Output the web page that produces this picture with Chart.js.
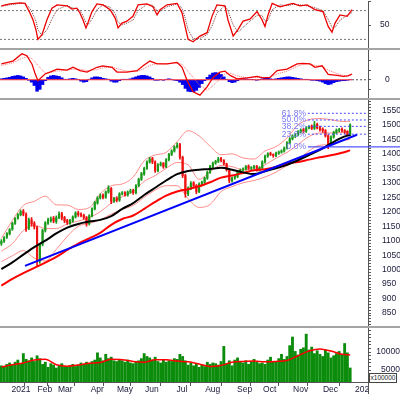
<!DOCTYPE html>
<html>
<head>
<meta charset="utf-8">
<script src="https://cdn.jsdelivr.net/npm/chart.js@4.4.1/dist/chart.umd.min.js"></script>
<style>
body { margin: 0; background: #fff; width: 400px; height: 394px; overflow: hidden; position: relative; font-family: 'Liberation Sans', Arial, sans-serif; }
.pane { position: absolute; left: 0; width: 400px; }
.sep { position: absolute; left: 0; width: 400px; height: 2px; background: #a4a4a4; }
#unit { position: absolute; left: 369px; top: 373px; width: 26px; height: 8px; border: 1px solid #444; background: #fff;
        font-size: 6.5px; line-height: 8px; text-align: center; color: #222; }
#edge { position: absolute; left: 368px; top: 383px; width: 32px; height: 11px; background: #fff; border-left: 1px solid #555; }
</style>
</head>
<body>
<div class="pane" style="top:1px;height:48px"><canvas id="osc"></canvas></div>
<div class="sep" style="top:48px"></div>
<div class="pane" style="top:50px;height:48px"><canvas id="macd"></canvas></div>
<div class="sep" style="top:98px"></div>
<div class="pane" style="top:100px;height:227px"><canvas id="price"></canvas></div>
<div class="sep" style="top:326px"></div>
<div class="pane" style="top:328px;height:66px"><canvas id="vol"></canvas></div>
<div id="unit">x100000</div>
<div id="edge"></div>

<script>
// x positions are candle slots (one slot = two trading sessions), 0 = late Dec 2020
const X_MIN = -0.5, X_MAX = 133.5;
const FONT = "'Liberation Sans', Arial, sans-serif";

const monthSlots = [3.7, 13.2, 20.6, 32.5, 42.1, 52.3, 63.8, 74.2, 85.8, 95.3, 106.2, 117.1, 128.8];
const monthNames = ['2021', 'Feb', 'Mar', 'Apr', 'May', 'Jun', 'Jul', 'Aug', 'Sep', 'Oct', 'Nov', 'Dec', '2022'];

// candles
const opens = [
  1090,1098,1112,1124,1140,1160,1178,1190,1202,1190,
  1142,1172,1160,1146,1030,1088,1136,1160,1170,1178,
  1166,1180,1194,1180,1170,1160,1168,1182,1196,1192,
  1188,1180,1160,1186,1210,1230,1248,1258,1250,1268,
  1280,1236,1248,1240,1262,1266,1258,1268,1274,1266,
  1290,1312,1330,1350,1372,1384,1372,1342,1362,1368,
  1356,1380,1398,1410,1424,1432,1388,1325,1262,1282,
  1300,1290,1270,1296,1302,1316,1336,1356,1368,1374,
  1384,1378,1366,1346,1306,1318,1322,1338,1346,1348,
  1358,1350,1352,1358,1344,1352,1372,1392,1402,1398,
  1394,1402,1406,1410,1420,1438,1452,1462,1466,1476,
  1484,1478,1490,1496,1488,1502,1490,1486,1480,1462,
  1436,1458,1474,1482,1486,1480,1478,1466];
const highs = [
  1104,1114,1128,1142,1164,1180,1194,1206,1208,1196,
  1178,1180,1166,1150,1090,1140,1166,1178,1182,1184,
  1186,1200,1198,1184,1174,1174,1186,1200,1202,1196,
  1192,1184,1190,1214,1236,1252,1262,1262,1272,1290,
  1284,1250,1252,1266,1270,1270,1272,1278,1278,1294,
  1316,1336,1354,1376,1388,1388,1376,1366,1372,1370,
  1384,1402,1414,1428,1438,1436,1392,1330,1286,1304,
  1304,1294,1300,1306,1320,1340,1360,1372,1378,1388,
  1388,1380,1368,1348,1320,1326,1342,1348,1352,1360,
  1362,1356,1360,1360,1356,1376,1396,1404,1406,1400,
  1406,1410,1414,1424,1442,1456,1466,1470,1480,1486,
  1488,1494,1498,1500,1512,1506,1496,1490,1484,1466,
  1462,1478,1486,1488,1490,1484,1480,1504];
const lows = [
  1084,1094,1108,1120,1136,1156,1174,1186,1186,1132,
  1138,1150,1140,1010,1022,1082,1130,1156,1164,1162,
  1160,1176,1172,1162,1156,1156,1164,1178,1184,1182,
  1174,1150,1154,1182,1206,1226,1244,1244,1246,1264,
  1228,1232,1234,1236,1258,1254,1254,1264,1260,1262,
  1286,1308,1326,1346,1368,1366,1336,1338,1358,1350,
  1352,1376,1394,1406,1420,1382,1318,1250,1256,1276,
  1284,1262,1266,1290,1298,1312,1332,1352,1364,1370,
  1372,1362,1340,1300,1302,1312,1318,1334,1340,1344,
  1346,1346,1348,1340,1340,1348,1368,1388,1394,1388,
  1390,1398,1402,1406,1416,1434,1448,1456,1462,1472,
  1472,1474,1486,1484,1484,1486,1478,1474,1458,1418,
  1432,1454,1470,1476,1476,1470,1462,1462];
const closes = [
  1098,1110,1125,1138,1160,1176,1190,1200,1192,1140,
  1172,1158,1148,1035,1085,1135,1162,1172,1176,1168,
  1180,1192,1178,1168,1162,1170,1182,1196,1190,1188,
  1180,1158,1186,1210,1232,1248,1255,1250,1268,1282,
  1236,1246,1240,1262,1265,1260,1268,1272,1266,1290,
  1312,1332,1350,1372,1382,1372,1342,1362,1366,1356,
  1380,1398,1410,1424,1430,1388,1325,1262,1280,1298,
  1290,1270,1295,1302,1316,1336,1356,1368,1374,1382,
  1378,1366,1345,1308,1316,1322,1338,1344,1348,1356,
  1350,1353,1356,1344,1352,1372,1392,1400,1398,1394,
  1402,1406,1410,1420,1438,1452,1462,1466,1476,1482,
  1478,1490,1494,1488,1500,1490,1484,1480,1462,1436,
  1458,1474,1482,1484,1480,1476,1466,1500];

// price overlays, sampled at these slots
const lineSlots = [0,4,8,12,16,20,24,28,32,36,40,44,48,52,56,60,64,68,72,76,80,84,88,92,96,100,104,108,112,116,120,124,127];
const ma50 = [1002,1025,1052,1078,1100,1125,1145,1158,1166,1172,1185,1210,1230,1258,1283,1308,1330,1341,1345,1348,1352,1345,1336,1330,1340,1350,1362,1378,1396,1414,1436,1456,1466];
const ma200 = [945,968,988,1006,1024,1044,1068,1090,1108,1127,1155,1175,1187,1210,1234,1256,1270,1278,1288,1302,1318,1325,1334,1343,1347,1355,1367,1372,1380,1388,1395,1404,1412];
const bbUpper = [1108,1170,1222,1236,1254,1224,1223,1208,1214,1262,1290,1296,1320,1376,1396,1405,1442,1480,1462,1426,1397,1400,1386,1382,1410,1425,1455,1500,1518,1522,1518,1512,1512];
const bbMid = [1064,1090,1135,1154,1142,1142,1158,1168,1180,1200,1230,1252,1270,1305,1325,1350,1370,1362,1312,1338,1360,1356,1345,1345,1362,1385,1405,1432,1460,1472,1472,1474,1476];
const bbLower = [1028,1048,1066,1040,1030,1070,1115,1150,1160,1172,1192,1208,1222,1250,1275,1290,1290,1245,1215,1225,1270,1287,1300,1308,1320,1337,1360,1380,1410,1430,1432,1445,1450];

const trendSlots = [8.6, 129.5];
const trendValues = [1013, 1466];

const fibLevels = [61.8, 50.0, 38.2, 23.6, 0.0];
const fibPrices = [1540, 1517, 1495, 1468, 1424];
const fibStart = 111.6, fibLabelSlot = 110.9, fibZeroEnd = 145.2;

const priceLabels = [850,900,950,1000,1050,1100,1150,1200,1250,1300,1350,1400,1450,1500,1550];

// oscillator (top pane)
const oscSlots = [0,3.1,6.8,8.6,10.4,11.5,12.6,13.3,14.8,16.6,18.4,20.3,23.9,25.7,27.5,28.6,29.7,30.8,31.5,33.0,
  34.8,37.0,39.6,41.4,42.5,43.9,45.7,47.9,49.8,53.0,55.2,56.7,57.8,60.3,64.0,65.8,66.9,68.0,69.8,72.3,
  74.9,76.7,78.5,81.4,82.5,84.4,86.2,88.0,90.5,93.1,94.9,96.0,97.1,98.6,101.5,104.0,106.2,108.7,111.3,114.2,
  117.1,119.0,120.4,121.5,123.3,125.9,127.7];
const oscK = [90,94,96,95,75, 61,40,20,30,61, 85,92,90,83,85, 75,61,44,54,78, 94,92,82,65,44, 54,58,68,92,94,
  88,71,82,92,95, 75,47,20,15,27, 34,68,92,90,61, 27,41,58,62,78, 61,47,71,95,88, 92,95,90,92,82, 78,47,35,54,71, 68,82];
const oscD = [89,92,95,95,85, 72,58,40,28,40, 62,82,91,86,84, 80,70,55,50,62, 82,92,87,74,56, 50,54,60,80,93,
  91,80,78,88,94, 85,65,40,22,22, 30,48,75,91,80, 50,35,45,58,70, 70,58,60,82,92, 90,93,92,90,86, 80,62,45,45,60, 70,76];
const oscBands = [80, 20];

// MACD (second pane)
const macdSlots = [0,4.2,7.5,9.3,11.2,12.2,13.3,15.9,17.7,20.3, 23.9,26.1,28.6,31.2,34.8,37.0,40.3,42.1,45.7,49.4,
  51.6,54.1,56.7,60.3,64.0,65.8,67.6,69.8,72.3,74.9, 77.1,79.6,81.4,83.3,85.8,89.5,93.1,95.3,97.8,100.4,
  104.0,107.7,109.8,112.4,114.2,116.8,119.0,122.2,124.4,126.2, 127.7];
const macdLine = [33,39,54,50,32,14,-2,12,16,22, 20,26,19,16,26,29,26,16,16,19, 29,39,33,33,36,26,-1,-25,-32,-15,
  5,16,18,9,2,4,7,4,5,19, 22,33,34,33,26,29,11,9,7,8, 12];
const macdSignal = [30,35,45,48,44,38,30,14,15,18, 20,22,22,19,21,25,27,23,18,17, 22,30,34,33,35,32,20,5,-12,-22,
  -12,2,12,14,8,4,5,5,5,12, 18,28,32,33,30,28,20,13,9,8, 10];
const macdHist = [
  2,3,4,5,7,8,9,8,6,3,
  -1,-5,-12,-24,-20,-10,-2,5,8,9,
  8,7,4,1,1,2,3,2,0,-3,
  -5,-4,1,4,6,6,5,3,2,1,
  -3,-5,-5,-2,1,1,1,2,4,6,
  8,9,9,8,6,3,-1,-1,0,-1,
  1,2,1,-1,-2,-5,-10,-18,-24,-25,
  -25,-22,-16,-8,-2,5,10,14,15,14,
  11,6,1,-4,-6,-5,-2,1,2,2,
  1,1,0,-1,0,2,3,3,2,1,
  2,3,4,5,6,6,5,4,3,2,
  1,1,0,-1,-1,-2,-3,-5,-8,-10,
  -9,-6,-4,-3,-2,-2,-1,0];

// volume (x100000)
const volume = [
  6200,5800,6600,7000,6400,7200,7800,6800,9600,8000,
  7600,8400,7400,9000,8200,6600,7200,5800,6800,6400,
  5600,6200,6800,6000,5800,6200,6600,6000,6400,7000,
  6600,7200,6800,7400,7800,9800,8400,7600,9400,8200,
  8600,7600,7400,8000,7600,7200,7800,7000,6800,7200,
  7600,8200,9600,8800,8400,7800,8600,7400,7000,7800,
  7200,7600,7400,8200,8000,9400,8800,7600,6400,7000,
  6200,6800,5800,6400,6000,7200,6600,7000,6800,6400,
  7400,11600,6800,7600,6200,7800,8400,7200,7000,7600,
  6600,7400,8000,7200,6800,7000,6600,7800,8600,7400,
  7200,8200,9400,8000,8800,11800,14200,10200,9200,10800,
  11200,15000,10600,11400,9600,10400,9400,8800,10600,9800,
  8400,9000,9600,10200,9200,12400,9800,5600];
const volumeMA = [5900,6500,7000,7800,8000,6500,6100,6400,6900,7100,8000,7900,7400,7200,7900,7900,7500,7300,6700,6000,6300,7200,7400,7500,7300,7400,7700,9000,10300,10900,10300,9400,9200];

const GREEN = '#1a9a1a', RED = '#ee1111';

const pts = (xs, ys) => ys.map((v, i) => ({ x: xs[i], y: v }));

function hiddenX() {
  return { type: 'linear', min: X_MIN, max: X_MAX, offset: false, display: false };
}

function rightAxis(min, max, tickValues, label, pad, align) {
  return {
    position: 'right', min: min, max: max,
    afterBuildTicks: s => { s.ticks = tickValues.map(v => ({ value: v })); },
    afterFit: s => { s.width = 32; s.paddingTop = 0; s.paddingBottom = 0; },
    border: { display: true, color: '#555', width: 1 },
    grid: { drawOnChartArea: false, drawTicks: true, tickLength: 3, color: '#555' },
    ticks: {
      autoSkip: false, padding: pad, crossAlign: align, color: '#1a1a3a',
      font: { size: 8.5, family: FONT },
      callback: v => label(v)
    }
  };
}

function baseOptions(x, y, plugins) {
  return {
    responsive: true, maintainAspectRatio: false, animation: false, events: [],
    layout: { padding: 0 },
    plugins: Object.assign({ legend: { display: false }, tooltip: { enabled: false } }, plugins || {}),
    scales: { x: x, y: y }
  };
}

function line(data, color, width, extra) {
  return Object.assign({ type: 'line', data: data, borderColor: color, borderWidth: width,
    pointRadius: 0, fill: false, tension: 0 }, extra || {});
}

// ---- top oscillator
new Chart(document.getElementById('osc'), {
  type: 'line',
  data: {
    datasets: [
      line(pts(oscSlots, oscK), '#ee0000', 1.3),
      line(pts(oscSlots, oscD), '#7a3a3a', 1, { borderDash: [1, 1] }),
      ...oscBands.map(b => line([{ x: X_MIN, y: b }, { x: X_MAX, y: b }], '#777', 1, { borderDash: [2, 2] }))
    ]
  },
  options: baseOptions(hiddenX(), rightAxis(0, 100, [0, 50, 100], v => v === 50 ? '50' : '', 9, 'near'))
});

// ---- MACD
new Chart(document.getElementById('macd'), {
  type: 'bar',
  data: {
    datasets: [
      line(pts(macdSlots, macdLine), '#ee0000', 1.3),
      line(pts(macdSlots, macdSignal), '#ff7070', 1, { borderDash: [1, 1] }),
      line([{ x: X_MIN, y: 0 }, { x: 127.7, y: 0 }], '#ff3030', 1),
      line([{ x: 127.7, y: 0 }, { x: X_MAX, y: 0 }], '#555', 1, { borderDash: [2, 2] }),
      { type: 'bar', data: macdHist.map((v, i) => ({ x: i, y: v })), backgroundColor: '#0000ee',
        barThickness: 2.8, grouped: false, borderWidth: 0 }
    ]
  },
  options: baseOptions(hiddenX(), rightAxis(-38, 62, [-20, 0, 20, 40], v => v === 0 ? '0' : '', 14, 'near'))
});

// ---- price
const candleColors = closes.map((c, i) => c >= opens[i] ? GREEN : RED);
const priceTicks = [];
for (let v = 810; v <= 1580; v += 10) priceTicks.push(v);

const fibLabelPlugin = {
  id: 'fibLabels',
  afterDatasetsDraw(chart) {
    const { ctx, scales } = chart;
    ctx.save();
    ctx.font = '8.5px ' + FONT;
    ctx.fillStyle = '#7878f4';
    ctx.textAlign = 'right';
    ctx.textBaseline = 'middle';
    fibLevels.forEach((lv, i) => {
      ctx.fillText(lv.toFixed(1) + '%', scales.x.getPixelForValue(fibLabelSlot), scales.y.getPixelForValue(fibPrices[i]));
    });
    ctx.restore();
  }
};

new Chart(document.getElementById('price'), {
  type: 'bar',
  data: {
    datasets: [
      ...fibLevels.map((lv, i) => line(
        [{ x: fibStart, y: fibPrices[i] }, { x: lv === 0 ? fibZeroEnd : X_MAX, y: fibPrices[i] }],
        lv === 0 ? '#2a2aff' : '#4a4aff', 1,
        lv === 0 ? { clip: false } : { borderDash: [2, 2] })),
      line(pts(trendSlots, trendValues), '#0000ff', 2),
      line(pts(lineSlots, ma50), '#000000', 2, { cubicInterpolationMode: 'monotone' }),
      line(pts(lineSlots, ma200), '#ff0000', 2, { cubicInterpolationMode: 'monotone' }),
      { type: 'bar', data: opens.map((o, i) => ({ x: i, y: [o, closes[i]] })), backgroundColor: candleColors,
        barThickness: 1.5, grouped: false, borderWidth: 0 },
      { type: 'bar', data: lows.map((l, i) => ({ x: i, y: [l, highs[i]] })), backgroundColor: candleColors,
        barThickness: 1, grouped: false, borderWidth: 0 },
      line(pts(lineSlots, bbUpper), '#ff8c8c', 1, { cubicInterpolationMode: 'monotone' }),
      line(pts(lineSlots, bbMid), '#ff8c8c', 1, { cubicInterpolationMode: 'monotone' }),
      line(pts(lineSlots, bbLower), '#ff8c8c', 1, { cubicInterpolationMode: 'monotone' })
    ]
  },
  options: baseOptions(hiddenX(),
    rightAxis(802, 1586, priceTicks, v => priceLabels.includes(v) ? String(v) : '', 11, 'near')),
  plugins: [fibLabelPlugin]
});

// ---- volume + date axis
const volTicks = [];
for (let v = 2000; v <= 16000; v += 1000) volTicks.push(v);

new Chart(document.getElementById('vol'), {
  type: 'bar',
  data: {
    datasets: [
      line(pts(lineSlots, volumeMA), '#ff0000', 1.5, { cubicInterpolationMode: 'monotone' }),
      { type: 'bar', data: volume.map((v, i) => ({ x: i, y: v })), backgroundColor: '#0b8c0b',
        barThickness: 2.2, grouped: false, borderWidth: 0 }
    ]
  },
  options: baseOptions({
    type: 'linear', min: X_MIN, max: X_MAX, offset: false,
    afterBuildTicks: s => { s.ticks = monthSlots.map(v => ({ value: v })); },
    afterFit: s => { s.height = 12; s.paddingLeft = 0; s.paddingRight = 0; },
    border: { display: true, color: '#555', width: 1 },
    grid: { drawOnChartArea: false, drawTicks: true, tickLength: 4, color: '#555' },
    ticks: { autoSkip: false, maxRotation: 0, align: 'start', padding: -1, color: '#1a1a3a',
      font: { size: 8.5, family: FONT }, callback: (v, i) => monthNames[i] }
  }, rightAxis(1700, 16700, volTicks, v => (v === 5000 || v === 10000) ? String(v) : '', 1, 'far'))
});
</script>
</body>
</html>
